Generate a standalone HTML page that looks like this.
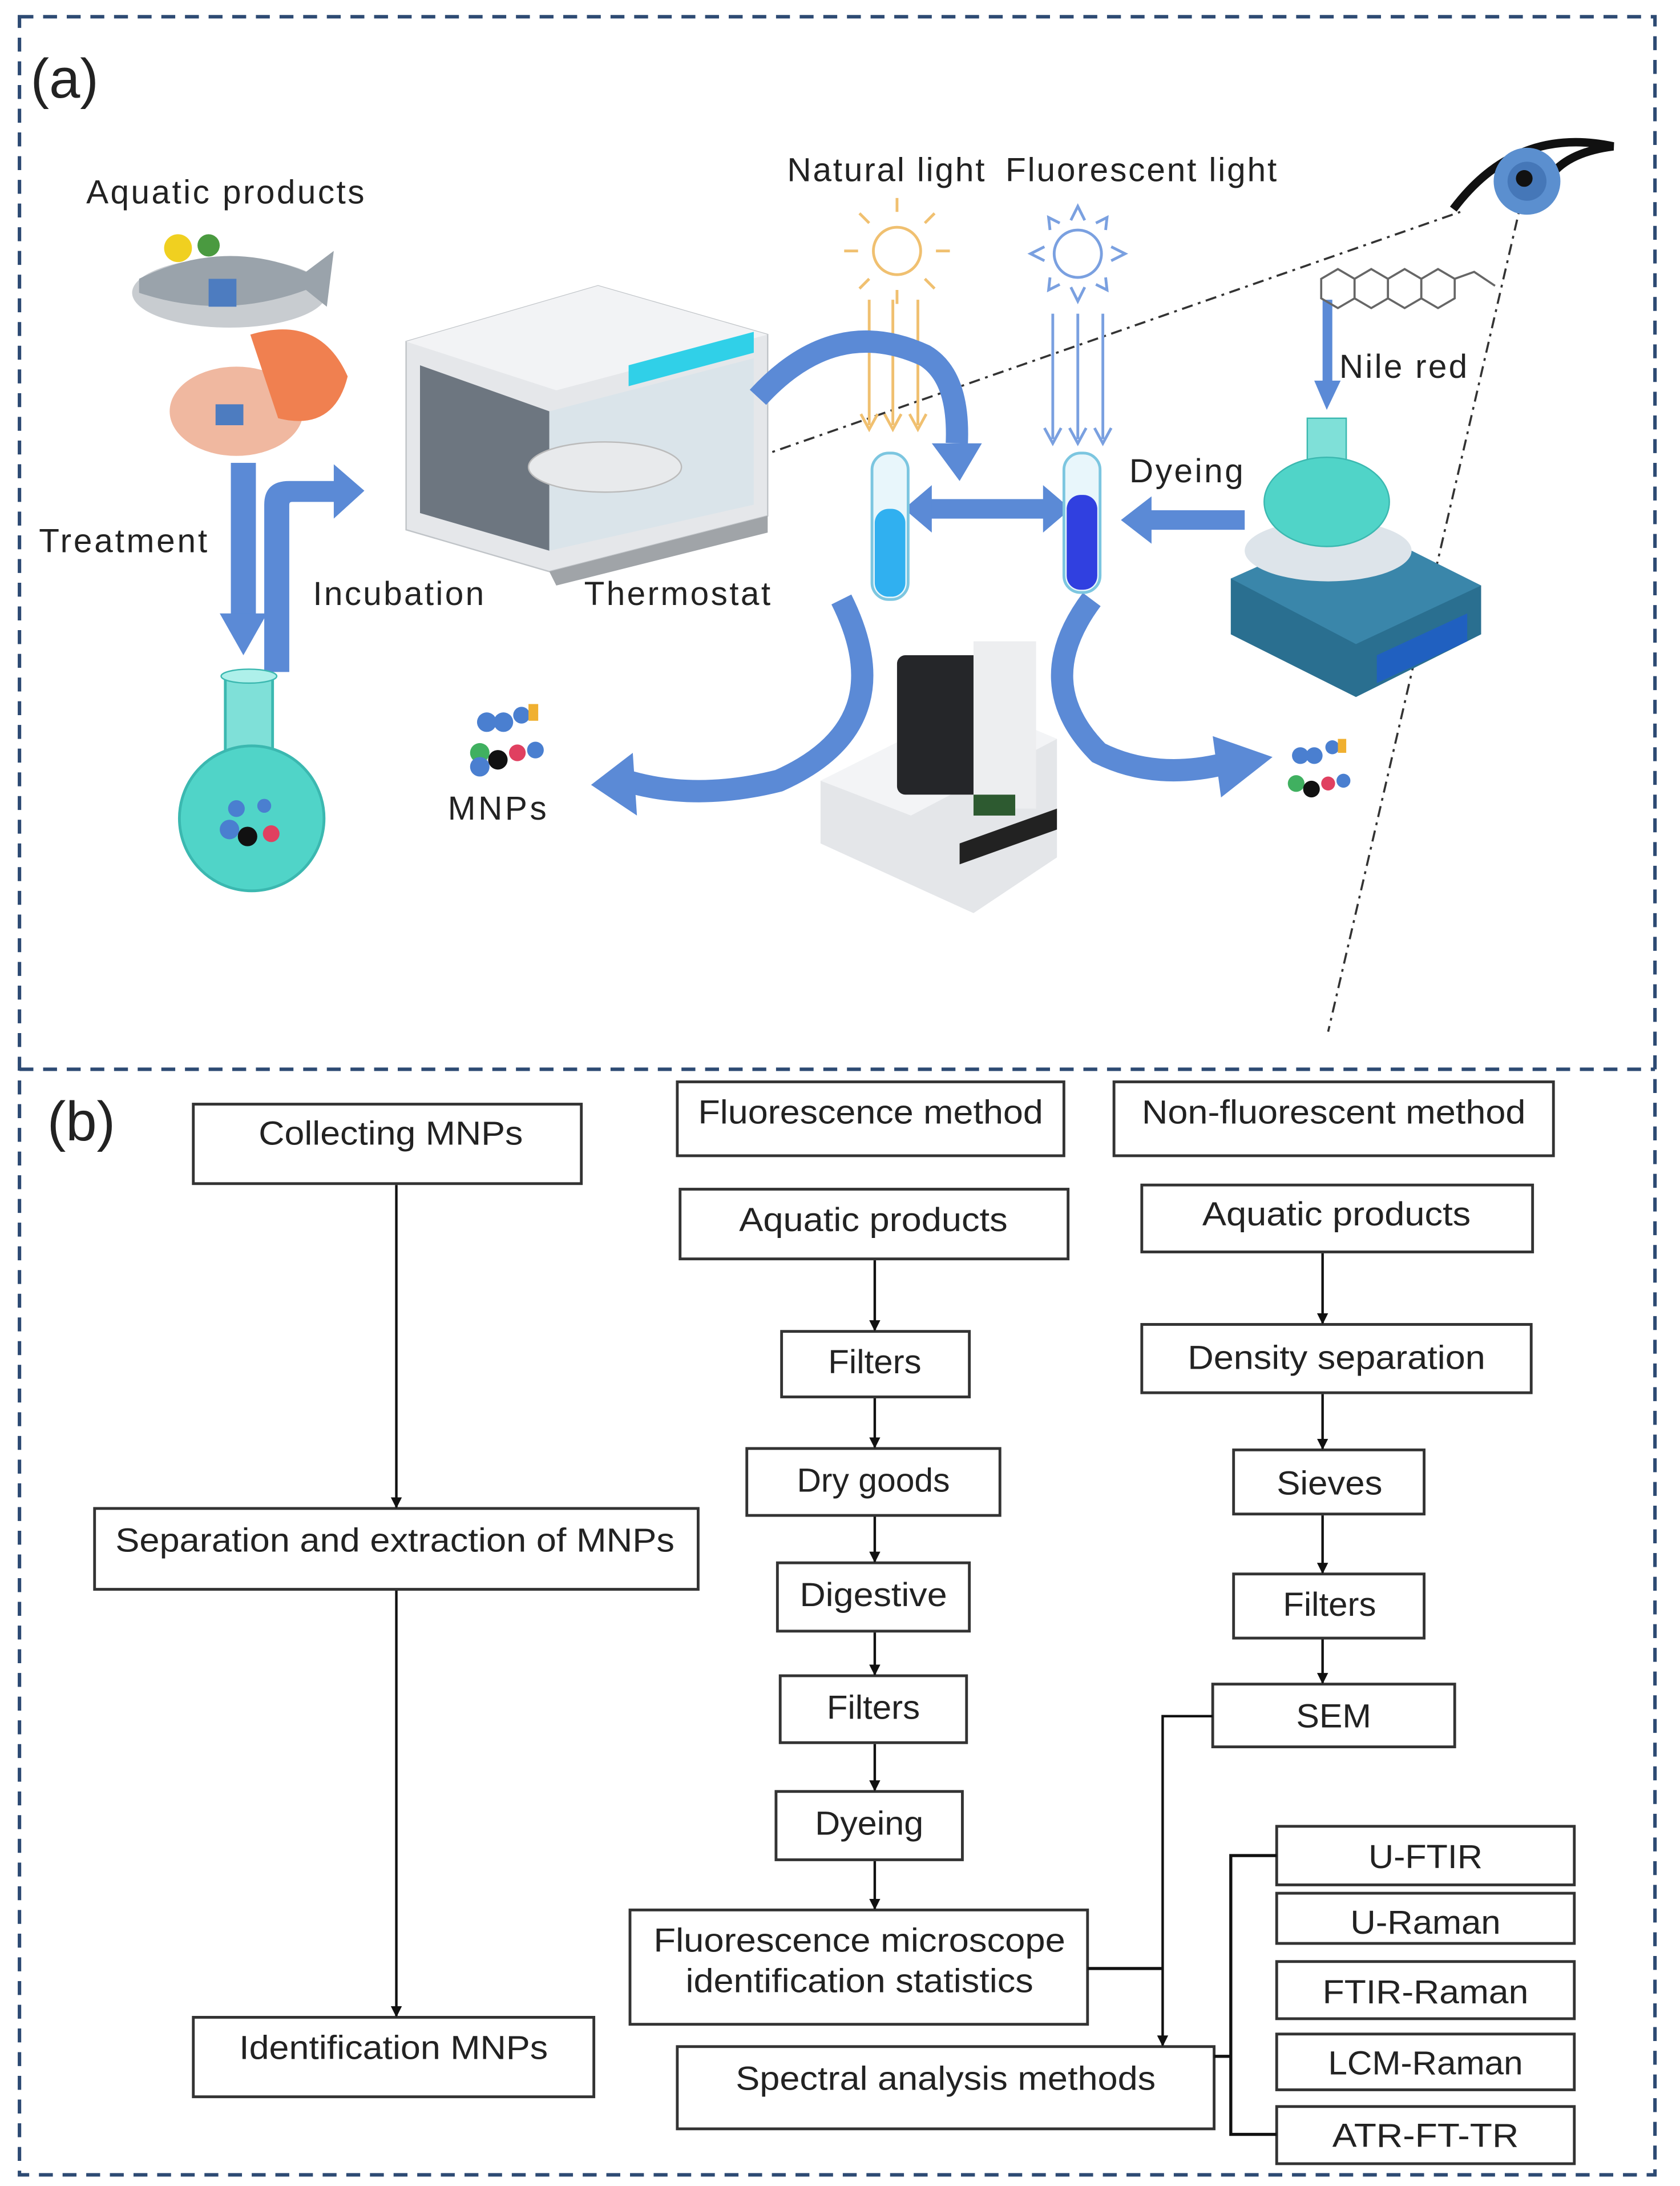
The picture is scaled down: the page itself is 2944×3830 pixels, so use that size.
<!DOCTYPE html>
<html><head><meta charset="utf-8"><style>
html,body{margin:0;padding:0;background:#fff}
svg{display:block}
text{font-family:"Liberation Sans",Arial,sans-serif;fill:#222}
</style></head><body>
<svg width="2944" height="3830" viewBox="0 0 1208 1568" preserveAspectRatio="none" xmlns="http://www.w3.org/2000/svg">
<defs>
<marker id="ah" markerWidth="8" markerHeight="8" refX="7" refY="4" orient="auto" markerUnits="userSpaceOnUse"><path d="M0,0 L8,4 L0,8 z" fill="#111"/></marker>
</defs>
<rect width="1208" height="1568" fill="#fff"/>
<g fill="none" stroke="#2d4a73" stroke-width="2.5" stroke-dasharray="10,7">
<rect x="14" y="12" width="1176" height="1548"/>
<line x1="14" y1="767" x2="1190" y2="767"/>
</g>
<text x="22" y="70" font-size="40">(a)</text>
<text x="34" y="818" font-size="40">(b)</text>

<!-- dash-dot sight lines -->
<g stroke="#333" stroke-width="1.5" fill="none" stroke-dasharray="8,4,2,4">
<path d="M510,340 L1050,152"/>
<path d="M1095,140 L955,740"/>
</g>
<!-- eye -->
<path d="M1045,150 Q1090,90 1160,105 Q1120,110 1110,135" fill="none" stroke="#111" stroke-width="6"/>
<circle cx="1098" cy="130" r="24" fill="#5b8fcf"/>
<circle cx="1098" cy="130" r="14" fill="#4577b8"/>
<circle cx="1096" cy="128" r="6" fill="#111"/>

<!-- aquatic products illustration -->
<ellipse cx="165" cy="210" rx="70" ry="25" fill="#c8ccd0"/>
<path d="M100,200 Q160,170 220,195 L240,180 L235,220 L220,208 Q160,230 100,210 z" fill="#9aa3ab"/>
<circle cx="128" cy="178" r="10" fill="#f0d020"/>
<circle cx="150" cy="176" r="8" fill="#4a9a40"/>
<ellipse cx="170" cy="295" rx="48" ry="32" fill="#f0b8a0"/>
<path d="M180,240 Q230,225 250,270 Q240,310 200,300 z" fill="#f08050"/>
<rect x="150" y="200" width="20" height="20" fill="#4d7cc0"/>
<rect x="155" y="290" width="20" height="15" fill="#4d7cc0"/>

<g fill="#5b8ad6">
<rect x="166" y="332" width="18" height="110"/>
<polygon points="158,440 192,440 175,470"/>
<path d="M190,482 L190,362 Q190,345 208,345 L240,345 L240,333 L262,352 L240,372 L240,360 L210,360 Q208,360 208,362 L208,482 z"/>
</g>

<rect x="162" y="485" width="34" height="60" fill="#7fe0d8" stroke="#3bb8b0" stroke-width="2"/>
<ellipse cx="179" cy="485" rx="20" ry="5" fill="#aef0ea" stroke="#3bb8b0"/>
<circle cx="181" cy="587" r="52" fill="#50d4c8" stroke="#3bb8b0" stroke-width="2"/>
<circle cx="165" cy="595" r="7" fill="#4a7fd0"/><circle cx="178" cy="600" r="7" fill="#111"/><circle cx="195" cy="598" r="6" fill="#e04060"/><circle cx="170" cy="580" r="6" fill="#4a7fd0"/><circle cx="190" cy="578" r="5" fill="#4a7fd0"/>

<!-- incubator -->
<polygon points="292,245 430,205 552,240 552,370 395,410 292,380" fill="#e5e7ea" stroke="#c0c4c8"/>
<polygon points="292,245 430,205 552,240 400,280" fill="#f2f3f5"/>
<polygon points="302,262 395,295 395,395 302,368" fill="#6d7680"/>
<polygon points="395,295 542,257 542,362 395,395" fill="#d7e4ea" opacity="0.8"/>
<polygon points="452,262 542,238 542,253 452,277" fill="#30d0e8"/>
<ellipse cx="435" cy="335" rx="55" ry="18" fill="#e8eaec" stroke="#bbb"/>
<polygon points="395,410 552,370 552,382 400,420" fill="#a0a4a8"/>

<g font-size="24">
<text x="62" y="146" textLength="200">Aquatic products</text>
<text x="28" y="396" textLength="121">Treatment</text>
<text x="225" y="434" textLength="123">Incubation</text>
<text x="420" y="434" textLength="134">Thermostat</text>
<text x="566" y="130" textLength="142">Natural light</text>
<text x="723" y="130" textLength="195">Fluorescent light</text>
<text x="963" y="271" textLength="92">Nile red</text>
<text x="812" y="346" textLength="82">Dyeing</text>
<text x="322" y="588" textLength="71">MNPs</text>
</g>

<circle cx="350" cy="518" r="7" fill="#4a7fd0"/><circle cx="362" cy="518" r="7" fill="#4a7fd0"/><circle cx="375" cy="513" r="6" fill="#4a7fd0"/>
<rect x="380" y="505" width="7" height="12" fill="#f0b030"/>
<circle cx="345" cy="540" r="7" fill="#40b060"/><circle cx="358" cy="545" r="7" fill="#111"/><circle cx="372" cy="540" r="6" fill="#e04060"/><circle cx="345" cy="550" r="7" fill="#4a7fd0"/><circle cx="385" cy="538" r="6" fill="#4a7fd0"/>

<g stroke="#f0c070" stroke-width="2" fill="none">
<circle cx="645" cy="180" r="17"/>
<path d="M645,152v-10M645,208v10M617,180h-10M673,180h10M625,160l-7,-7M665,160l7,-7M625,200l-7,7M665,200l7,7"/>
<path d="M625,215 L625,305 M642,215 L642,305 M660,215 L660,305"/>
<path d="M619,297 L625,308 L631,297 M636,297 L642,308 L648,297 M654,297 L660,308 L666,297"/>
</g>
<g stroke="#7aa0e0" stroke-width="2" fill="none">
<circle cx="775" cy="182" r="17"/>
<path d="M770,158 L775,148 L780,158 M770,206 L775,216 L780,206 M751,177 L741,182 L751,187 M799,177 L809,182 L799,187 M755,165 L754,156 L762,160 M795,165 L796,156 L788,160 M755,199 L754,208 L762,204 M795,199 L796,208 L788,204"/>
<path d="M757,225 L757,315 M775,225 L775,315 M793,225 L793,315"/>
<path d="M751,307 L757,318 L763,307 M769,307 L775,318 L781,307 M787,307 L793,318 L799,307"/>
</g>

<g fill="none" stroke="#5b8ad6" stroke-width="16">
<path d="M545,285 Q600,225 665,255 Q690,270 688,318"/>
<path d="M605,430 Q650,520 560,560 Q500,575 450,560"/>
<path d="M785,430 Q740,490 790,540 Q830,560 880,548"/>
</g>
<g fill="#5b8ad6">
<polygon points="670,318 706,318 690,345"/>
<polygon points="455,540 425,563 458,585"/>
<polygon points="872,528 915,543 878,572"/>
<rect x="668" y="358" width="84" height="14"/>
<polygon points="670,348 650,365 670,382"/>
<polygon points="750,348 770,365 750,382"/>
<rect x="825" y="366" width="70" height="14"/>
<polygon points="828,356 806,373 828,390"/>
<rect x="951" y="215" width="7" height="60"/>
<polygon points="945,273 964,273 954,294"/>
</g>

<rect x="627" y="325" width="26" height="105" rx="12" fill="#e8f6fb" stroke="#7cc6e0" stroke-width="2"/>
<rect x="629" y="365" width="22" height="63" rx="10" fill="#30b0f0"/>
<rect x="765" y="325" width="26" height="100" rx="12" fill="#e8f6fb" stroke="#7cc6e0" stroke-width="2"/>
<rect x="767" y="355" width="22" height="68" rx="10" fill="#3040e0"/>

<g stroke="#666" stroke-width="1.5" fill="none">
<polygon points="950,200 962,193 974,200 974,214 962,221 950,214"/>
<polygon points="974,200 986,193 998,200 998,214 986,221 974,214"/>
<polygon points="998,200 1010,193 1022,200 1022,214 1010,221 998,214"/>
<polygon points="1022,200 1034,193 1046,200 1046,214 1034,221 1022,214"/>
<path d="M1046,200 L1060,195 L1075,205"/>
</g>

<polygon points="885,415 975,375 1065,420 1065,455 975,500 885,455" fill="#2a6f90"/>
<polygon points="885,415 975,375 1065,420 975,462" fill="#3a86aa"/>
<polygon points="990,470 1055,440 1055,460 990,490" fill="#2060c0"/>
<ellipse cx="955" cy="395" rx="60" ry="22" fill="#dde4ea"/>
<rect x="940" y="300" width="28" height="40" fill="#7fe0d8" stroke="#3bb8b0"/>
<ellipse cx="954" cy="360" rx="45" ry="32" fill="#50d4c8" stroke="#3bb8b0"/>

<polygon points="590,560 700,505 760,530 760,615 700,655 590,605" fill="#e4e6e9"/>
<polygon points="590,560 700,505 760,530 655,585" fill="#f3f4f6"/>
<rect x="645" y="470" width="70" height="100" rx="6" fill="#252629"/>
<rect x="700" y="460" width="45" height="120" fill="#edeef0"/>
<polygon points="690,605 760,580 760,595 690,620" fill="#222"/>
<rect x="700" y="570" width="30" height="15" fill="#2d5a30"/>

<circle cx="935" cy="542" r="6" fill="#4a7fd0"/><circle cx="945" cy="542" r="6" fill="#4a7fd0"/><circle cx="958" cy="536" r="5" fill="#4a7fd0"/>
<rect x="962" y="530" width="6" height="10" fill="#f0b030"/>
<circle cx="932" cy="562" r="6" fill="#40b060"/><circle cx="943" cy="566" r="6" fill="#111"/><circle cx="955" cy="562" r="5" fill="#e04060"/><circle cx="966" cy="560" r="5" fill="#4a7fd0"/>

<!-- ===== Part b ===== -->
<g fill="#fff" stroke="#333" stroke-width="2">
<rect x="139" y="792" width="279" height="57"/>
<rect x="68" y="1082" width="434" height="58"/>
<rect x="139" y="1447" width="288" height="57"/>
<rect x="487" y="776" width="278" height="53"/>
<rect x="801" y="776" width="316" height="53"/>
<rect x="489" y="853" width="279" height="50"/>
<rect x="562" y="955" width="135" height="47"/>
<rect x="537" y="1039" width="182" height="48"/>
<rect x="559" y="1121" width="138" height="49"/>
<rect x="561" y="1202" width="134" height="48"/>
<rect x="558" y="1285" width="134" height="49"/>
<rect x="453" y="1370" width="329" height="82"/>
<rect x="487" y="1468" width="386" height="59"/>
<rect x="821" y="850" width="281" height="48"/>
<rect x="821" y="950" width="280" height="49"/>
<rect x="887" y="1040" width="137" height="46"/>
<rect x="887" y="1129" width="137" height="46"/>
<rect x="872" y="1208" width="174" height="45"/>
<rect x="918" y="1310" width="214" height="42"/>
<rect x="918" y="1358" width="214" height="36"/>
<rect x="918" y="1407" width="214" height="41"/>
<rect x="918" y="1459" width="214" height="40"/>
<rect x="918" y="1511" width="214" height="41"/>
</g>
<g stroke="#111" stroke-width="1.8" fill="none" marker-end="url(#ah)">
<line x1="285" y1="850" x2="285" y2="1081"/>
<line x1="285" y1="1141" x2="285" y2="1446"/>
<line x1="629" y1="904" x2="629" y2="954"/>
<line x1="629" y1="1003" x2="629" y2="1038"/>
<line x1="629" y1="1088" x2="629" y2="1120"/>
<line x1="629" y1="1171" x2="629" y2="1201"/>
<line x1="629" y1="1251" x2="629" y2="1284"/>
<line x1="629" y1="1335" x2="629" y2="1369"/>
<line x1="951" y1="899" x2="951" y2="949"/>
<line x1="951" y1="1000" x2="951" y2="1039"/>
<line x1="951" y1="1087" x2="951" y2="1128"/>
<line x1="951" y1="1176" x2="951" y2="1207"/>
<path d="M872,1231 L836,1231 L836,1467"/>
</g>
<g stroke="#111" stroke-width="2.2" fill="none">
<path d="M782,1412 L836,1412"/>
<path d="M918,1331 L885,1331 L885,1531 L918,1531"/>
<path d="M873,1475 L885,1475"/>
</g>
<g font-size="24" text-anchor="middle" lengthAdjust="spacingAndGlyphs">
<text x="281" y="821" textLength="190" lengthAdjust="spacingAndGlyphs">Collecting MNPs</text>
<text x="284" y="1113" textLength="402" lengthAdjust="spacingAndGlyphs">Separation and extraction of MNPs</text>
<text x="283" y="1477" textLength="222" lengthAdjust="spacingAndGlyphs">Identification MNPs</text>
<text x="626" y="806" textLength="248" lengthAdjust="spacingAndGlyphs">Fluorescence method</text>
<text x="959" y="806" textLength="276" lengthAdjust="spacingAndGlyphs">Non-fluorescent method</text>
<text x="628" y="883" textLength="193" lengthAdjust="spacingAndGlyphs">Aquatic products</text>
<text x="629" y="985" textLength="67" lengthAdjust="spacingAndGlyphs">Filters</text>
<text x="628" y="1070" textLength="110" lengthAdjust="spacingAndGlyphs">Dry goods</text>
<text x="628" y="1152" textLength="106" lengthAdjust="spacingAndGlyphs">Digestive</text>
<text x="628" y="1233" textLength="67" lengthAdjust="spacingAndGlyphs">Filters</text>
<text x="625" y="1316" textLength="78" lengthAdjust="spacingAndGlyphs">Dyeing</text>
<text x="618" y="1400" textLength="296" lengthAdjust="spacingAndGlyphs">Fluorescence microscope</text>
<text x="618" y="1429" textLength="250" lengthAdjust="spacingAndGlyphs">identification statistics</text>
<text x="680" y="1499" textLength="302" lengthAdjust="spacingAndGlyphs">Spectral analysis methods</text>
<text x="961" y="879" textLength="193" lengthAdjust="spacingAndGlyphs">Aquatic products</text>
<text x="961" y="982" textLength="214" lengthAdjust="spacingAndGlyphs">Density separation</text>
<text x="956" y="1072" textLength="76" lengthAdjust="spacingAndGlyphs">Sieves</text>
<text x="956" y="1159" textLength="67" lengthAdjust="spacingAndGlyphs">Filters</text>
<text x="959" y="1239" textLength="54" lengthAdjust="spacingAndGlyphs">SEM</text>
<text x="1025" y="1340" textLength="82" lengthAdjust="spacingAndGlyphs">U-FTIR</text>
<text x="1025" y="1387" textLength="108" lengthAdjust="spacingAndGlyphs">U-Raman</text>
<text x="1025" y="1437" textLength="148" lengthAdjust="spacingAndGlyphs">FTIR-Raman</text>
<text x="1025" y="1488" textLength="140" lengthAdjust="spacingAndGlyphs">LCM-Raman</text>
<text x="1025" y="1540" textLength="134" lengthAdjust="spacingAndGlyphs">ATR-FT-TR</text>
</g>
</svg>
</body></html>
